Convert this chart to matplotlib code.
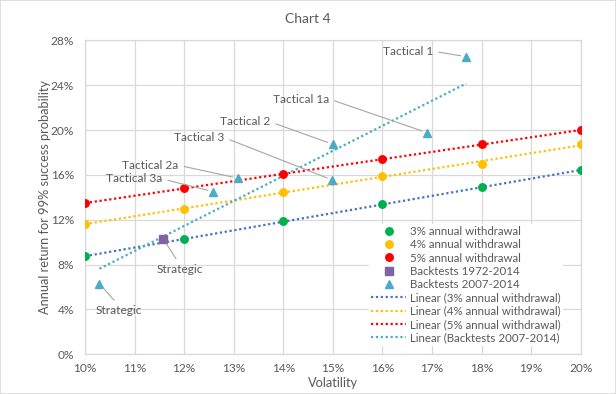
import matplotlib
matplotlib.use('Agg')
import matplotlib.pyplot as plt
import numpy as np
from matplotlib.ticker import FuncFormatter
from matplotlib.patches import Rectangle

plt.rcParams['font.family'] = ['Lato', 'DejaVu Sans']

# ---- data ----
vol_grid = [10, 12, 14, 16, 18, 20]
w3 = [8.74, 10.26, 11.86, 13.38, 14.90, 16.41]
w4 = [11.62, 12.99, 14.45, 15.93, 16.95, 18.79]
w5 = [13.47, 14.81, 16.08, 17.40, 18.73, 19.98]

bt72_x = [11.58]
bt72_y = [10.26]
bt72_labels = ['Strategic']

bt07_x = [10.29, 12.59, 13.09, 14.99, 15.00, 16.90, 17.69]
bt07_y = [6.30, 14.50, 15.70, 15.54, 18.73, 19.76, 26.54]
bt07_labels = ['Strategic', 'Tactical 3a', 'Tactical 2a', 'Tactical 3',
               'Tactical 2', 'Tactical 1a', 'Tactical 1']

x_ticks = list(range(10, 21))
y_ticks = list(range(0, 29, 4))

# ---- layout / style ----
bt07_offsets = [(19, -27), (-79, 12.7), (-87.6, 12.9), (-133, 42.3),
                (-87.6, 22.3), (-126, 33.7), (-58.3, 5.4)]
bt72_offsets = [(16, -30)]

GREEN = '#00B050'
YELLOW = '#FFC000'
RED = '#FF0000'
PURPLE = '#8064A2'
CYAN = '#4BACC6'
BLUE = '#4472C4'
TXT = '#595959'
GRID = '#D9D9D9'

fig = plt.figure(figsize=(6.16, 3.94), dpi=100)
fig.patches.append(Rectangle((0, 0), 1, 1, transform=fig.transFigure,
                             fill=False, edgecolor=GRID, lw=1.2))
ax = fig.add_axes([0.138, 0.1008, 0.8049, 0.7969])

ms = 5.4
h3, = ax.plot(vol_grid, w3, 'o', color=GREEN, ms=ms, ls='none', zorder=4, label='3% annual withdrawal')
h4, = ax.plot(vol_grid, w4, 'o', color=YELLOW, ms=ms, ls='none', zorder=4, label='4% annual withdrawal')
h5, = ax.plot(vol_grid, w5, 'o', color=RED, ms=ms, ls='none', zorder=4, label='5% annual withdrawal')
h72, = ax.plot(bt72_x, bt72_y, 's', color=PURPLE, ms=5.2, ls='none', zorder=4, label='Backtests 1972-2014')
h07, = ax.plot(bt07_x, bt07_y, '^', color=CYAN, ms=6.0, ls='none', zorder=4, label='Backtests 2007-2014')

dot = (0, (1, 1.2))
def trend(xs, ys, color, label):
    k, b = np.polyfit(xs, ys, 1)
    xx = np.array([min(xs), max(xs)])
    h, = ax.plot(xx, k * xx + b, color=color, lw=1.6, ls=dot, zorder=3, label=label)
    return h

t3 = trend(vol_grid, w3, BLUE, 'Linear (3% annual withdrawal)')
t4 = trend(vol_grid, w4, YELLOW, 'Linear (4% annual withdrawal)')
t5 = trend(vol_grid, w5, RED, 'Linear (5% annual withdrawal)')
t07 = trend(bt07_x, bt07_y, CYAN, 'Linear (Backtests 2007-2014)')

def label_points(xs, ys, labels, offsets):
    for x, y, lab, off in zip(xs, ys, labels, offsets):
        below = off[1] < 0
        ax.annotate(lab, xy=(x, y), xycoords='data', xytext=off,
                    textcoords='offset pixels', ha='center', va='center',
                    fontsize=8.6, color=TXT, zorder=5,
                    arrowprops=dict(arrowstyle='-', color='#A6A6A6', lw=0.8,
                                    shrinkA=2, shrinkB=4,
                                    relpos=(0.5, 1.0) if below else (1.0, 0.5)))

label_points(bt07_x, bt07_y, bt07_labels, bt07_offsets)
label_points(bt72_x, bt72_y, bt72_labels, bt72_offsets)

ax.set_xlim(10, 20)
ax.set_ylim(0, 28)
ax.set_xticks(x_ticks)
ax.set_yticks(y_ticks)
ax.xaxis.set_major_formatter(FuncFormatter(lambda v, p: f'{v:.0f}%'))
ax.yaxis.set_major_formatter(FuncFormatter(lambda v, p: f'{v:.0f}%'))
ax.grid(True, color=GRID, lw=0.9)
ax.set_axisbelow(True)
ax.tick_params(length=0, colors=TXT, labelsize=8.6)
ax.tick_params(axis='y', pad=8)
ax.tick_params(axis='x', pad=6.5)
for s in ax.spines.values():
    s.set_color(GRID)
    s.set_linewidth(0.9)

ax.set_xlabel('Volatility', color=TXT, fontsize=9.2, labelpad=2)
ax.set_ylabel('Annual return for 99% success probability', color=TXT, fontsize=9.2, labelpad=0)
fig.text(0.5, 1 - 19 / 394, 'Chart 4', ha='center', va='center', color=TXT, fontsize=10)

leg = ax.legend(handles=[h3, h4, h5, h72, h07, t3, t4, t5, t07],
                loc='upper left', bbox_to_anchor=(0.599, 0.4325),
                bbox_transform=fig.transFigure, frameon=True, fancybox=False,
                fontsize=8.3, labelspacing=0.2, handlelength=3.0,
                handletextpad=0.35, borderpad=0.2, borderaxespad=0)
leg.get_frame().set_facecolor('white')
leg.get_frame().set_edgecolor('none')
leg.get_frame().set_alpha(1)
for t in leg.get_texts():
    t.set_color(TXT)

fig.savefig('out.png', dpi=100)
